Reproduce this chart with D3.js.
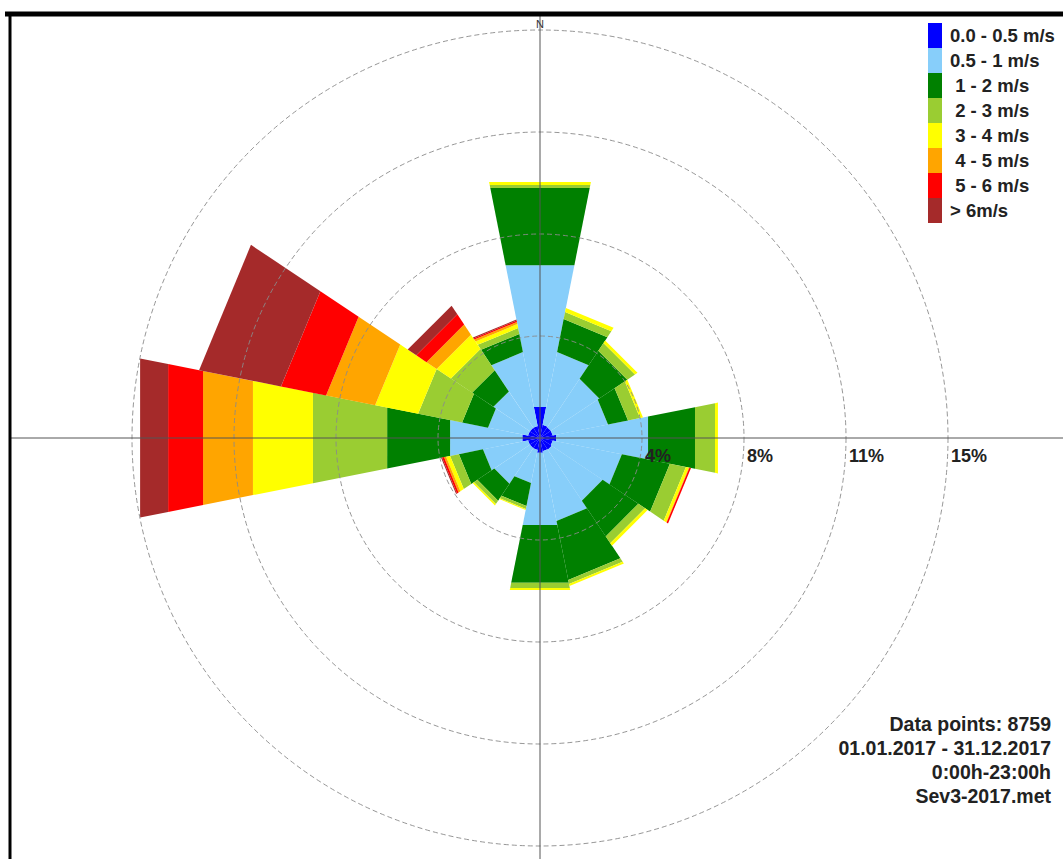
<!DOCTYPE html>
<html>
<head>
<meta charset="utf-8">
<script src="https://cdn.jsdelivr.net/npm/d3@7"></script>
<style>
  body { margin: 0; background: #fff; }
  text { font-family: "Liberation Sans", Arial, sans-serif; }
</style>
</head>
<body>
<div id="rose"></div>
<script>
// directions, clockwise from north
const directions = ["N","NNE","NE","ENE","E","ESE","SE","SSE","S","SSW","SW","WSW","W","WNW","NW","NNW"];

// frequency (%) per speed class, one value per direction
const spd0 = [1.16, 0.50, 0.48, 0.48, 0.60, 0.48, 0.52, 0.50, 0.55, 0.45, 0.45, 0.45, 0.66, 0.45, 0.45, 0.45];
const spd1 = [5.32, 2.72, 2.14, 2.07, 3.45, 2.59, 2.25, 2.61, 2.71, 1.24, 1.57, 1.69, 2.71, 1.50, 1.61, 2.77];
const spd2 = [2.89, 1.24, 1.24, 0.75, 1.76, 1.80, 1.58, 2.21, 2.17, 0.86, 0.75, 0.90, 2.36, 0.97, 0.94, 0.68];
const spd3 = [0.11, 0.26, 0.34, 0.45, 0.75, 0.60, 0.30, 0.15, 0.19, 0.11, 0.15, 0.33, 2.78, 1.65, 0.94, 0.22];
const spd4 = [0.12, 0.15, 0.11, 0.11, 0.11, 0.11, 0.11, 0.08, 0.08, 0.04, 0.06, 0.15, 2.25, 1.61, 0.63, 0.15];
const spd5 = [0, 0, 0, 0, 0, 0.02, 0, 0, 0, 0, 0, 0.08, 1.87, 1.84, 0.45, 0.08];
const spd6 = [0, 0, 0, 0, 0, 0.06, 0, 0, 0, 0, 0, 0.07, 1.31, 1.69, 0.45, 0.05];
const spd7 = [0, 0, 0, 0, 0, 0, 0, 0, 0, 0, 0, 0.04, 1.05, 3.07, 0.38, 0.04];

const classes = ["0.0 - 0.5 m/s", "0.5 - 1 m/s", " 1 - 2 m/s", " 2 - 3 m/s", " 3 - 4 m/s", " 4 - 5 m/s", " 5 - 6 m/s", "> 6m/s"];
const ringTicks = [3.75, 7.5, 11.25, 15];
const ringLabels = ["4%", "8%", "11%", "15%"];
const infoLines = ["Data points: 8759", "01.01.2017 - 31.12.2017", "0:00h-23:00h", "Sev3-2017.met"];

const colors = ["#0000ff", "#87cefa", "#008000", "#9acd32", "#ffff00", "#ffa500", "#ff0000", "#a52a2a"];

const W = 1063, H = 859;
const cx = 540, cy = 438, maxR = 408;

const svg = d3.select("#rose").append("svg")
  .attr("width", W).attr("height", H);

// build table for the stack
const series = [spd0, spd1, spd2, spd3, spd4, spd5, spd6, spd7];
const table = directions.map((d, i) => {
  const row = {dir: d};
  classes.forEach((c, k) => row[c] = series[k][i]);
  return row;
});
const stacked = d3.stack().keys(classes)(table);

const r = d3.scaleLinear().domain([0, 15]).range([0, maxR]);
const ang = d3.scaleBand().domain(directions).range([-Math.PI / 16, 2 * Math.PI - Math.PI / 16]);

const g = svg.append("g").attr("transform", `translate(${cx},${cy})`);

function pt(rad, a) { return [rad * Math.sin(a), -rad * Math.cos(a)]; }

// bars
stacked.forEach((layer, k) => {
  g.append("g").selectAll("polygon")
    .data(layer.filter(d => d[1] - d[0] > 0))
    .join("polygon")
      .attr("fill", colors[k])
      .attr("points", d => {
        const a0 = ang(d.data.dir), a1 = a0 + ang.bandwidth();
        const r0 = r(d[0]), r1 = r(d[1]);
        return [pt(r0, a0), pt(r1, a0), pt(r1, a1), pt(r0, a1)].map(p => p.join(",")).join(" ");
      });
});

// rings
g.append("g").selectAll("circle")
  .data(ringTicks)
  .join("circle")
    .attr("r", d => r(d))
    .attr("fill", "none")
    .attr("stroke", "#8a8a8a")
    .attr("stroke-width", 0.9)
    .attr("stroke-dasharray", "5,3");

// axes through centre
svg.append("line").attr("x1", 10).attr("x2", W).attr("y1", cy).attr("y2", cy)
  .attr("stroke", "#555").attr("stroke-width", 1);
svg.append("line").attr("x1", cx).attr("x2", cx).attr("y1", 16).attr("y2", H)
  .attr("stroke", "#555").attr("stroke-width", 1);

svg.append("text").attr("x", cx).attr("y", 28).attr("text-anchor", "middle")
  .attr("font-size", 11).attr("fill", "#333").text("N");

// ring labels
g.append("g").selectAll("text")
  .data(ringTicks)
  .join("text")
    .attr("x", d => r(d) + 3)
    .attr("y", 24)
    .attr("font-size", 18).attr("font-weight", "bold").attr("fill", "#222")
    .text((d, i) => ringLabels[i]);

// legend
const leg = svg.append("g").attr("transform", "translate(928,23)");
const li = leg.selectAll("g").data(classes).join("g")
  .attr("transform", (d, i) => `translate(0,${i * 25})`);
li.append("rect").attr("width", 14).attr("height", 25).attr("fill", (d, i) => colors[i]);
li.append("text").attr("x", 22).attr("y", 19)
  .attr("font-size", 18.5).attr("font-weight", "bold").attr("fill", "#222")
  .attr("xml:space", "preserve").style("white-space", "pre")
  .text(d => d);

// info block
svg.append("g").selectAll("text")
  .data(infoLines)
  .join("text")
    .attr("x", 1051).attr("y", (d, i) => 731 + i * 24)
    .attr("text-anchor", "end")
    .attr("font-size", 19.5).attr("font-weight", "bold").attr("fill", "#222")
    .text(d => d);

// frame
svg.append("line").attr("x1", 5).attr("x2", W).attr("y1", 14).attr("y2", 14)
  .attr("stroke", "#000").attr("stroke-width", 5);
svg.append("line").attr("x1", 10).attr("x2", 10).attr("y1", 12).attr("y2", H)
  .attr("stroke", "#000").attr("stroke-width", 3);
</script>
</body>
</html>
